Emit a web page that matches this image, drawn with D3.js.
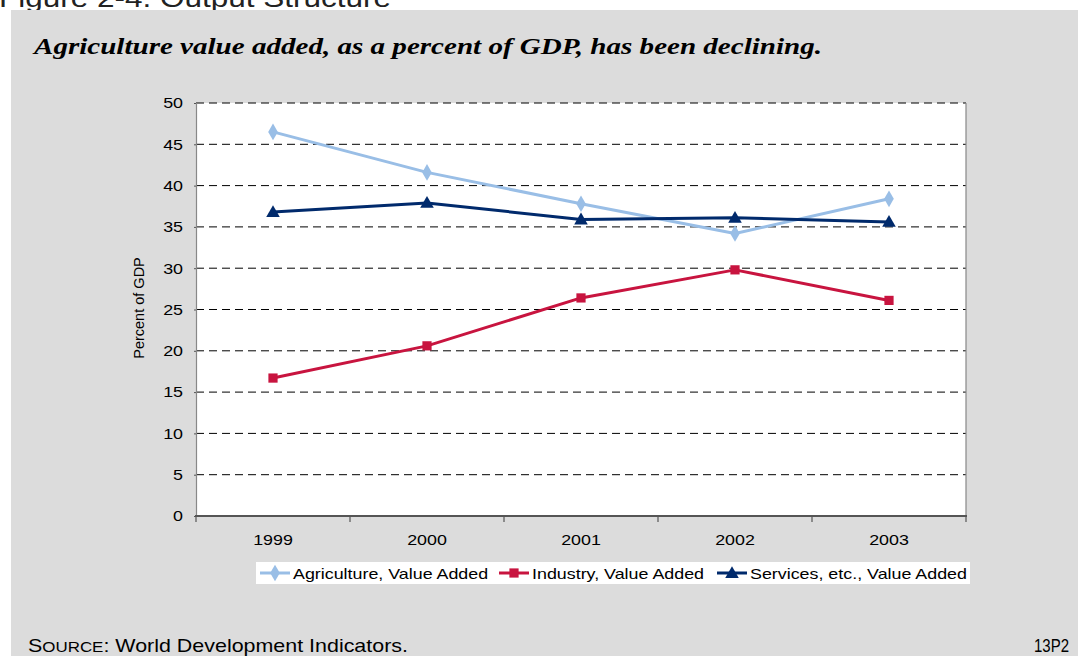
<!DOCTYPE html>
<html>
<head>
<meta charset="utf-8">
<script src="https://cdn.jsdelivr.net/npm/d3@7"></script>
<style>
  html, body { margin: 0; padding: 0; background: #ffffff; }
  svg { display: block; }
</style>
</head>
<body>
<svg id="chart" width="1078" height="656"></svg>
<script>
// Years on the category axis
const years = ["1999", "2000", "2001", "2002", "2003"];
// Value added by sector, percent of GDP
const agriculture = [46.5, 41.6, 37.8, 34.2, 38.4];
const industry = [16.7, 20.6, 26.4, 29.8, 26.1];
const services = [36.8, 37.9, 35.9, 36.1, 35.6];
// Y-axis ticks
const yTicks = [0, 5, 10, 15, 20, 25, 30, 35, 40, 45, 50];

const seriesList = [
  { name: "Agriculture, Value Added", values: agriculture, color: "#99bee6", symbol: d3.symbolDiamond, size: 80 },
  { name: "Industry, Value Added", values: industry, color: "#c8143f", symbol: d3.symbolSquare, size: 85 },
  { name: "Services, etc., Value Added", values: services, color: "#002a6c", symbol: d3.symbolTriangle, size: 80 }
];

const svg = d3.select("#chart");
const sans = "'Liberation Sans', Arial, sans-serif";
const WIDEN = 1.19; // glyphs in this layout are drawn slightly wide

// Widen text horizontally while keeping its anchor
function widen(sel, k = WIDEN) {
  sel.each(function () {
    const w = this.getComputedTextLength();
    d3.select(this).attr("textLength", w * k).attr("lengthAdjust", "spacingAndGlyphs");
  });
  return sel;
}

// Caption above the panel
svg.append("text")
  .attr("x", -1).attr("y", 7)
  .attr("font-family", sans).attr("font-size", 26)
  .attr("fill", "#222")
  .text("Figure 2-4. Output Structure")
  .attr("textLength", 392).attr("lengthAdjust", "spacingAndGlyphs");

// Grey panel
svg.append("rect")
  .attr("x", 11).attr("y", 10).attr("width", 1067).attr("height", 646)
  .attr("fill", "#dcdcdc");

// Headline
svg.append("text")
  .attr("x", 34).attr("y", 54)
  .attr("font-family", "'Liberation Serif', 'Times New Roman', serif")
  .attr("font-size", 24).attr("font-weight", "bold").attr("font-style", "italic")
  .attr("fill", "#000")
  .text("Agriculture value added, as a percent of GDP, has been declining.")
  .attr("textLength", 788).attr("lengthAdjust", "spacingAndGlyphs");

// Plot area
const plotLeft = 196, plotRight = 966, plotTop = 103, plotBottom = 516;
const x = d3.scaleBand().domain(years).range([plotLeft, plotRight]).padding(0);
const y = d3.scaleLinear().domain([0, 50]).range([plotBottom, plotTop]);

svg.append("rect")
  .attr("x", plotLeft).attr("y", plotTop)
  .attr("width", plotRight - plotLeft).attr("height", plotBottom - plotTop)
  .attr("fill", "#ffffff");

// Dashed gridlines
svg.append("g")
  .selectAll("line")
  .data(yTicks.filter(t => t > 0))
  .join("line")
  .attr("x1", plotLeft).attr("x2", plotRight)
  .attr("y1", d => y(d)).attr("y2", d => y(d))
  .attr("stroke", "#000").attr("stroke-width", 1)
  .attr("stroke-dasharray", "8,5");

// Right border of plot
svg.append("line")
  .attr("x1", plotRight).attr("x2", plotRight).attr("y1", plotTop).attr("y2", plotBottom)
  .attr("stroke", "#888").attr("stroke-width", 1.2);

// Y axis
const yAxis = svg.append("g")
  .attr("transform", `translate(${plotLeft},0)`)
  .call(d3.axisLeft(y).tickValues(yTicks).tickSize(2).tickPadding(11));
yAxis.select(".domain").attr("stroke", "#888").attr("stroke-width", 1.2);
yAxis.selectAll(".tick line").attr("stroke", "#555");
yAxis.selectAll(".tick text")
  .attr("font-family", sans).attr("font-size", 15).attr("fill", "#000")
  .call(widen);

// X axis with ticks at category boundaries
const xAxisG = svg.append("g").attr("transform", `translate(0,${plotBottom})`);
xAxisG.append("line")
  .attr("x1", plotLeft - 1).attr("x2", plotRight + 1)
  .attr("stroke", "#555").attr("stroke-width", 2);
const boundaries = years.map(d => x(d)).concat([x(years[years.length - 1]) + x.bandwidth()]);
xAxisG.selectAll("line.tk")
  .data(boundaries)
  .join("line").attr("class", "tk")
  .attr("x1", d => d).attr("x2", d => d)
  .attr("y1", 0).attr("y2", 6)
  .attr("stroke", "#555").attr("stroke-width", 1.2);
xAxisG.selectAll("text")
  .data(years)
  .join("text")
  .attr("x", d => x(d) + x.bandwidth() / 2)
  .attr("y", 29)
  .attr("text-anchor", "middle")
  .attr("font-family", sans).attr("font-size", 15).attr("fill", "#000")
  .text(d => d)
  .call(widen);

// Y axis title
svg.append("text")
  .attr("transform", "translate(144,308) rotate(-90)")
  .attr("text-anchor", "middle")
  .attr("font-family", sans).attr("font-size", 14.5).attr("fill", "#000")
  .text("Percent of GDP");

// Lines and markers
const cx = (d, i) => x(years[i]) + x.bandwidth() / 2;
const line = d3.line().x(cx).y(d => y(d));

seriesList.forEach(s => {
  svg.append("path")
    .datum(s.values)
    .attr("d", line)
    .attr("fill", "none")
    .attr("stroke", s.color)
    .attr("stroke-width", 3)
    .attr("stroke-linejoin", "round");
  svg.append("g")
    .selectAll("path")
    .data(s.values)
    .join("path")
    .attr("transform", (d, i) => `translate(${cx(d, i)},${y(d) + (s.symbol === d3.symbolTriangle ? 1 : 0)})`)
    .attr("d", d3.symbol().type(s.symbol).size(s.size))
    .attr("fill", s.color);
});

// Legend
const legend = svg.append("g");
legend.append("rect")
  .attr("x", 256).attr("y", 562).attr("width", 714).attr("height", 22)
  .attr("fill", "#ffffff");
const legendX = [260, 499, 717];
seriesList.forEach((s, i) => {
  const g = legend.append("g").attr("transform", `translate(${legendX[i]},573)`);
  g.append("line")
    .attr("x1", 0).attr("x2", 30)
    .attr("stroke", s.color).attr("stroke-width", 3);
  g.append("path")
    .attr("transform", `translate(15,${s.symbol === d3.symbolTriangle ? 1 : 0})`)
    .attr("d", d3.symbol().type(s.symbol).size(s.size))
    .attr("fill", s.color);
  g.append("text")
    .attr("x", 33).attr("y", 5.5)
    .attr("font-family", sans).attr("font-size", 15).attr("fill", "#000")
    .text(s.name)
    .call(widen);
});

// Footer
const source = svg.append("text")
  .attr("x", 28).attr("y", 652)
  .attr("font-family", sans).attr("font-size", 19).attr("fill", "#000")
  .attr("textLength", 380).attr("lengthAdjust", "spacingAndGlyphs");
source.append("tspan").text("S");
source.append("tspan").attr("font-size", 15).text("OURCE");
source.append("tspan").text(": World Development Indicators.");

svg.append("text")
  .attr("x", 1069).attr("y", 652)
  .attr("text-anchor", "end")
  .attr("font-family", sans).attr("font-size", 19).attr("fill", "#000")
  .attr("textLength", 35).attr("lengthAdjust", "spacingAndGlyphs")
  .text("13P2");
</script>
</body>
</html>
